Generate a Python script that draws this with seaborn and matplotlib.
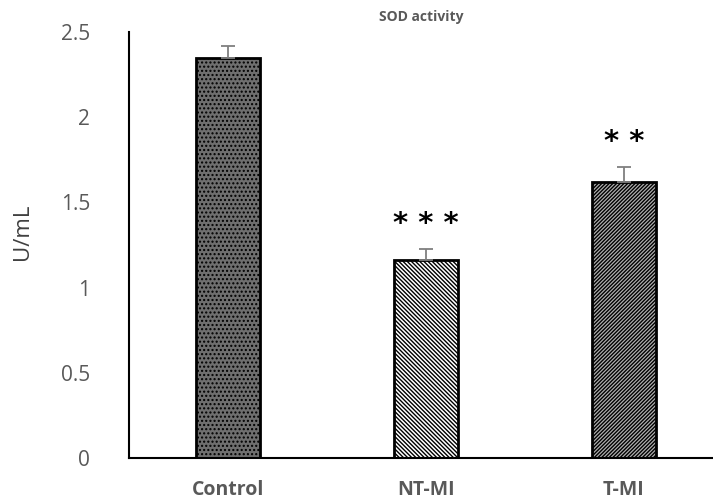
import numpy as np
import pandas as pd
import matplotlib
matplotlib.use("Agg")
import matplotlib.pyplot as plt
import seaborn as sns

groups = ["Control", "NT-MI", "T-MI"]
sod = [2.35, 1.16, 1.62]
sod_err = [0.07, 0.065, 0.085]
stars = ["", "* * *", "* *"]

df = pd.DataFrame({"group": groups, "sod": sod})

sns.set_style("white")
plt.rcParams["font.family"] = ["Open Sans", "DejaVu Sans"]
plt.rcParams["hatch.linewidth"] = 1.0

fig = plt.figure(figsize=(7.13, 4.99), dpi=100)
ax = fig.add_axes([0.181, 0.082, 0.819, 0.854])

sns.barplot(data=df, x="group", y="sod", color="white", width=0.32,
            edgecolor="black", linewidth=2, errorbar=None, ax=ax)

# fill patterns for each bar
looks = [("#6f6f6f", "...."), ("white", "\\" * 8), ("#b0b0b0", "/" * 9)]
for patch, (fc, hatch) in zip(ax.patches, looks):
    patch.set_facecolor(fc)
    patch.set_hatch(hatch)

# upper half error bars only
ax.errorbar(range(len(groups)), sod, yerr=[np.zeros(len(sod)), sod_err],
            fmt="none", ecolor="#7f7f7f", elinewidth=1.3, capsize=5, capthick=1.3)

for i, (v, e, s) in enumerate(zip(sod, sod_err, stars)):
    if s:
        ax.text(i, v + e + 0.15, s, ha="center", va="center", fontsize=21,
                fontweight="bold", color="black", family="DejaVu Sans")

ax.set_ylim(0, 2.5)
ax.set_xlim(-0.5, 2.45)
ax.set_yticks([0, 0.5, 1, 1.5, 2, 2.5])
ax.set_yticklabels(["0", "0.5", "1", "1.5", "2", "2.5"])
ax.tick_params(axis="y", length=0, pad=28, labelsize=15, labelcolor="#595959")
ax.tick_params(axis="x", length=0, pad=16, labelsize=14, labelcolor="#595959")
for lab in ax.get_xticklabels():
    lab.set_fontweight("bold")

ax.set_xlabel("")
ax.set_ylabel("U/mL", fontsize=16, color="#404040")
ax.yaxis.set_label_coords(-0.165, 0.53)
ax.set_title("SOD activity", fontsize=10, fontweight="bold", color="#595959", pad=8)

sns.despine(ax=ax)
for side in ["left", "bottom"]:
    ax.spines[side].set_color("black")
    ax.spines[side].set_linewidth(1.5)

fig.savefig("out.png", dpi=100)
